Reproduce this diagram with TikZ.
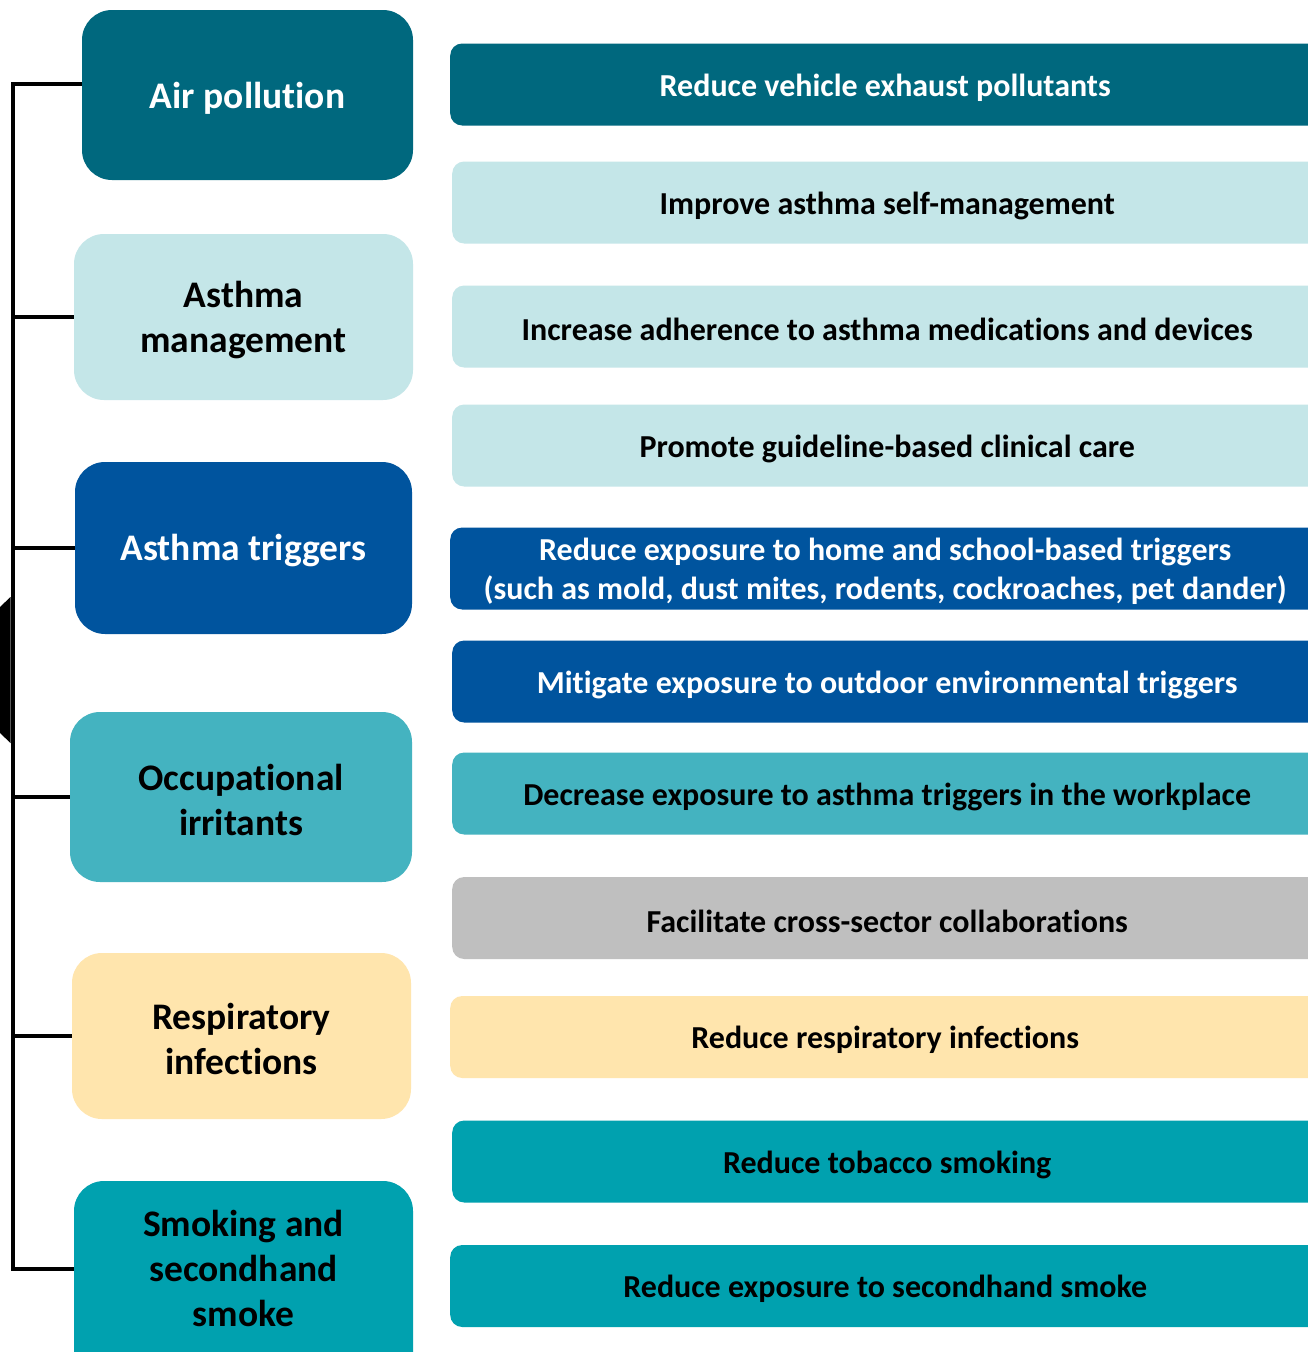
\documentclass[tikz,border=0pt]{standalone}
\usepackage{fontspec}
\setmainfont[Ligatures=NoCommon]{Carlito}
\definecolor{cair}{HTML}{00687E}
\definecolor{clight}{HTML}{C4E6E8}
\definecolor{cblue}{HTML}{00549E}
\definecolor{cocc}{HTML}{44B3C0}
\definecolor{cyel}{HTML}{FFE5AD}
\definecolor{csmoke}{HTML}{00A1AF}
\definecolor{cgray}{HTML}{BFBFBF}
\tikzset{
  lbox/.style={rounded corners=30pt, inner sep=0pt},
  ltext/.style={align=center, inner sep=0pt, yshift=-3pt,
    font=\fontsize{37.5}{45}\selectfont\bfseries},
  rbox/.style={rounded corners=12pt, inner sep=0pt,
    minimum height=82pt, minimum width=870pt, anchor=west},
  rtext/.style={align=center, inner sep=0pt, yshift=-3pt,
    font=\fontsize{32}{39}\selectfont\bfseries},
  conn/.style={line width=4pt, black}
}
\begin{document}
\begin{tikzpicture}[x=1pt,y=-1pt]
\clip (0,0) rectangle (1308,1352);
\fill[white] (0,0) rectangle (1308,1352);
% left boxes
\node[lbox, fill=cair, minimum width=331pt, minimum height=170pt] (l1) at (247.5,95) {};
\node[ltext, text=white] (lt1) at (l1.center) {Air pollution};
\node[lbox, fill=clight, minimum width=339pt, minimum height=166pt] (l2) at (243.5,317) {};
\node[ltext] (lt2) at (l2.center) {Asthma\\management};
\node[lbox, fill=cblue, minimum width=337pt, minimum height=172pt] (l3) at (243.5,548) {};
\node[ltext, text=white] (lt3) at (l3.center) {Asthma triggers};
\node[lbox, fill=cocc, minimum width=342pt, minimum height=170pt] (l4) at (241,797) {};
\node[ltext] (lt4) at (l4.center) {Occupational\\irritants};
\node[lbox, fill=cyel, minimum width=339pt, minimum height=166pt] (l5) at (241.5,1036) {};
\node[ltext] (lt5) at (l5.center) {Respiratory\\infections};
\node[lbox, fill=csmoke, minimum width=339pt, minimum height=219pt] (l6) at (243.5,1290.5) {};
\node[ltext] (lt6) at ([yshift=-85pt]l6.north) {Smoking and\\secondhand\\smoke};
% right boxes
\node[rbox, fill=cair] (r1) at (450,84.5) {};
\node[rtext, text=white] (rt1) at (r1.center) {Reduce vehicle exhaust pollutants};
\node[rbox, fill=clight] (r2) at (452,202.5) {};
\node[rtext] (rt2) at (r2.center) {Improve asthma self-management};
\node[rbox, fill=clight] (r3) at (452,326.5) {};
\node[rtext] (rt3) at (r3.center) {Increase adherence to asthma medications and devices};
\node[rbox, fill=clight] (r4) at (452,445.5) {};
\node[rtext] (rt4) at (r4.center) {Promote guideline-based clinical care};
\node[rbox, fill=cblue] (r5) at (450,568.5) {};
\node[rtext, text=white] (rt5) at (r5.center) {Reduce exposure to home and school-based triggers\\(such as mold, dust mites, rodents, cockroaches, pet dander)};
\node[rbox, fill=cblue] (r6) at (452,681.5) {};
\node[rtext, text=white] (rt6) at (r6.center) {Mitigate exposure to outdoor environmental triggers};
\node[rbox, fill=cocc] (r7) at (452,793.5) {};
\node[rtext] (rt7) at (r7.center) {Decrease exposure to asthma triggers in the workplace};
\node[rbox, fill=cgray] (r8) at (452,918) {};
\node[rtext] (rt8) at (r8.center) {Facilitate cross-sector collaborations};
\node[rbox, fill=cyel] (r9) at (450,1037) {};
\node[rtext] (rt9) at (r9.center) {Reduce respiratory infections};
\node[rbox, fill=csmoke] (r10) at (452,1161.5) {};
\node[rtext] (rt10) at (r10.center) {Reduce tobacco smoking};
\node[rbox, fill=csmoke] (r11) at (450,1286) {};
\node[rtext] (rt11) at (r11.center) {Reduce exposure to secondhand smoke};
% connectors
\coordinate (sp) at (12.5,0);
\draw[conn] (l1.west |- 0,84) -| (sp |- 0,1269) -- (l6.west |- 0,1269);
\draw[conn] (l2.west) -- (l2.west -| sp);
\draw[conn] (l3.west) -- (l3.west -| sp);
\draw[conn] (l4.west) -- (l4.west -| sp);
\draw[conn] (l5.west) -- (l5.west -| sp);
\fill[black] (0,607) -- (10.5,597) -- (10.5,743) -- (0,733) -- cycle;
\end{tikzpicture}
\end{document}
